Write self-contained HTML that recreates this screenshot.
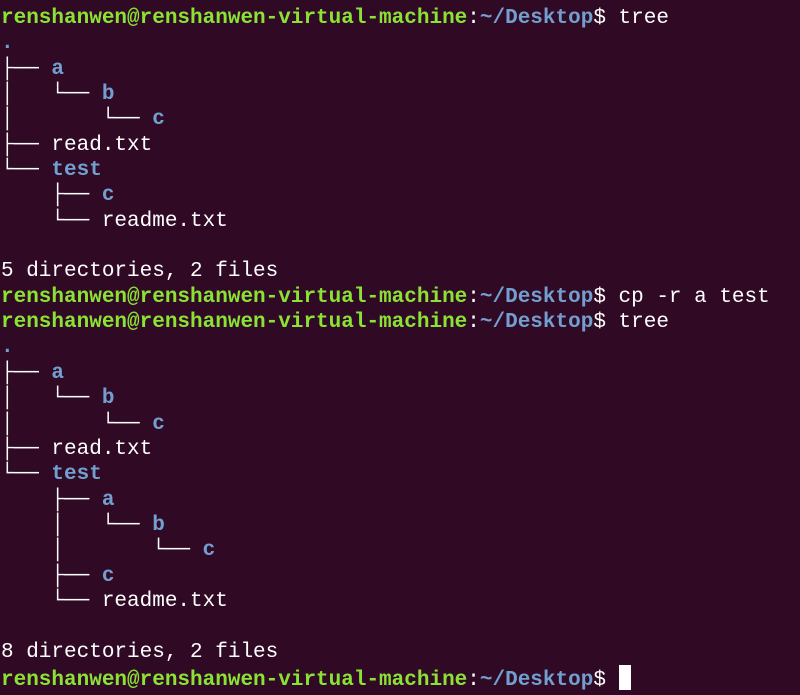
<!DOCTYPE html>
<html><head><meta charset="utf-8"><style>
html,body{margin:0;padding:0;background:#300a24;width:800px;height:695px;overflow:hidden}
pre{margin:0;padding:6px 0 0 1px;font-family:"Liberation Mono","DejaVu Sans Mono",monospace;font-size:21px;line-height:25.35px;color:#ffffff;white-space:pre}
.g{color:#8ae234;font-weight:bold}
.b{color:#729fcf;font-weight:bold}
.cur{display:inline-block;width:12px;height:25px;background:#fff;vertical-align:-5px}
</style></head><body>
<pre><span class="g">renshanwen@renshanwen-virtual-machine</span>:<span class="b">~/Desktop</span>$ tree
<span class="b">.</span>
├── <span class="b">a</span>
│   └── <span class="b">b</span>
│       └── <span class="b">c</span>
├── read.txt
└── <span class="b">test</span>
    ├── <span class="b">c</span>
    └── readme.txt

5 directories, 2 files
<span class="g">renshanwen@renshanwen-virtual-machine</span>:<span class="b">~/Desktop</span>$ cp -r a test
<span class="g">renshanwen@renshanwen-virtual-machine</span>:<span class="b">~/Desktop</span>$ tree
<span class="b">.</span>
├── <span class="b">a</span>
│   └── <span class="b">b</span>
│       └── <span class="b">c</span>
├── read.txt
└── <span class="b">test</span>
    ├── <span class="b">a</span>
    │   └── <span class="b">b</span>
    │       └── <span class="b">c</span>
    ├── <span class="b">c</span>
    └── readme.txt

8 directories, 2 files
<span class="g">renshanwen@renshanwen-virtual-machine</span>:<span class="b">~/Desktop</span>$ <span class="cur"></span></pre>
</body></html>
